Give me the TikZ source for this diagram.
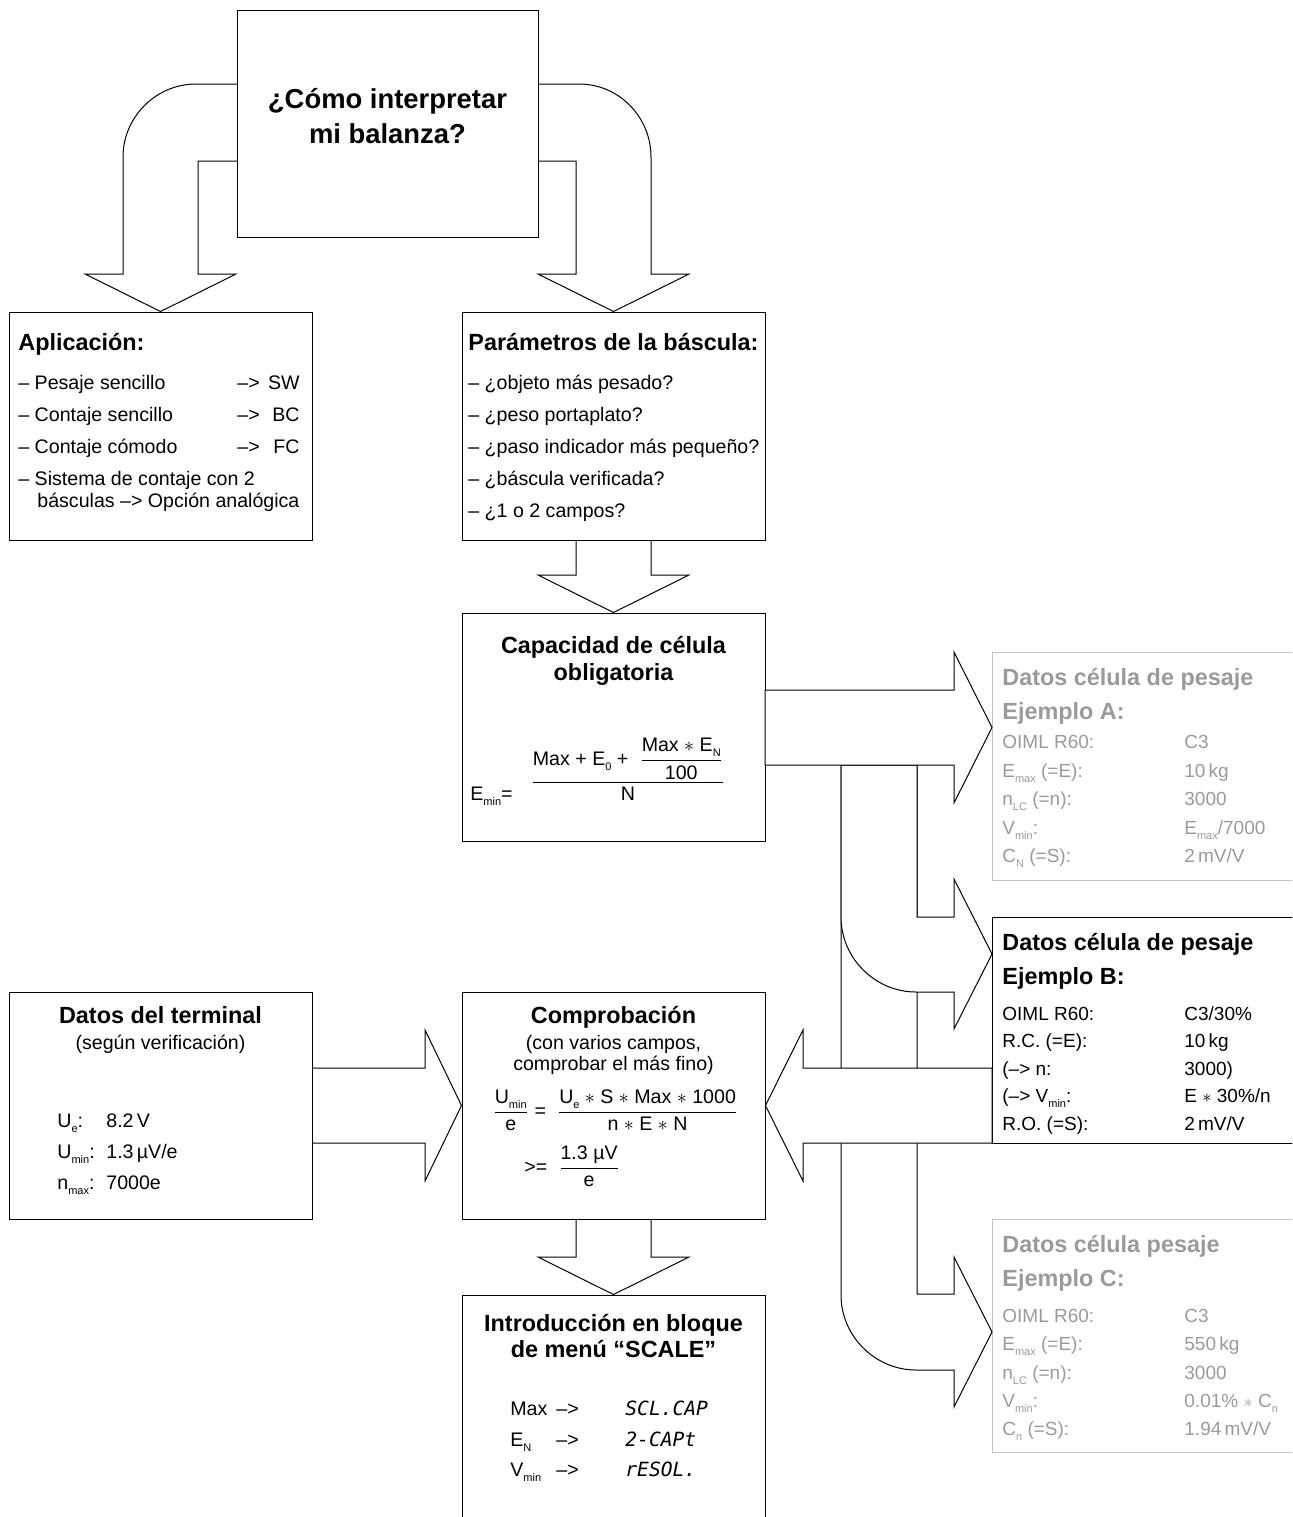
\documentclass[tikz,border=0pt]{standalone}
\usepackage{amsmath}
\usepackage{fontspec}
\setmainfont{Liberation Sans}
\newfontfamily\segfont{DejaVu Sans Mono}
\usepackage{tikz}

\definecolor{datgray}{HTML}{9A9A9A}
\definecolor{boxgray}{HTML}{C4C4C4}
\newcommand{\lsub}[1]{\raisebox{-0.5ex}{\fontsize{5.5}{6}\selectfont #1}}

\tikzset{
  box/.style={draw, line width=0.5pt, inner sep=0pt},
  ghost/.style={draw=boxgray, line width=0.5pt, inner sep=0pt},
  blk/.style={draw, line width=0.5pt, line join=miter},
  ttl/.style={font=\fontsize{13.7}{16}\selectfont\bfseries, inner sep=0pt, anchor=base},
  hd/.style={font=\fontsize{11.7}{14}\selectfont\bfseries, inner sep=0pt, anchor=base west},
  tx/.style={font=\fontsize{9.8}{12}\selectfont, inner sep=0pt, anchor=base west},
  dt/.style={font=\fontsize{9.5}{11}\selectfont, inner sep=0pt, anchor=base west},
}

\begin{document}
\begin{tikzpicture}[x=0.5pt,y=-0.5pt]
  \useasboundingbox (0,0) rectangle (1292,1517);
  \clip (0,0) rectangle (1292,1517);
  %% boxes
  \node[box, minimum width=150.5pt, minimum height=113.5pt] (q) at (387.5,123.5) {};
  \node[box, minimum width=151.5pt, minimum height=114pt] (apl) at (160.5,426) {};
  \node[box, minimum width=151.5pt, minimum height=114pt] (par) at (613.5,426) {};
  \node[box, minimum width=151.5pt, minimum height=114pt] (cap) at (613.5,727) {};
  \node[box, minimum width=151.5pt, minimum height=113.5pt] (ter) at (160.5,1105.5) {};
  \node[box, minimum width=151.5pt, minimum height=113.5pt] (com) at (613.5,1105.5) {};
  \node[box, minimum width=151.5pt, minimum height=120pt] (ein) at (613.5,1415) {};
  \node[ghost, minimum width=155pt, minimum height=114pt] (dA) at (1147,766) {};
  \node[box, minimum width=155pt, minimum height=113pt] (dB) at (1147,1030) {};
  \node[ghost, minimum width=155pt, minimum height=116.5pt] (dC) at (1147,1335.5) {};

  %% block arrows
  \draw[blk] (237,84) -- (196,84) .. controls (156,84) and (123,117) .. (123,157) -- (123,274) -- (85,274) -- (apl.north) -- (236,274) -- (198,274) -- (198,161) -- (237,161);
  \draw[blk] (538,84) -- (579,84) .. controls (619,84) and (651,117) .. (651,157) -- (651,274) -- (689,274) -- (par.north) -- (538,274) -- (576,274) -- (576,161) -- (538,161);
  \draw[blk] (576,540) -- (576,575) -- (538,575) -- (cap.north) -- (689,575) -- (651,575) -- (651,540);
  \draw[blk] (312,1068) -- (425,1068) -- (425,1030) -- (com.west) -- (425,1181) -- (425,1143) -- (312,1143);
  \draw[blk] (576,1219) -- (576,1257) -- (538,1257) -- (ein.north) -- (689,1257) -- (651,1257) -- (651,1219);
  %% branches to the load cells, drawn over each other
  \filldraw[blk, fill=white] (841,765) -- (841,1295) .. controls (841,1336) and (875,1370) .. (916,1370) -- (954,1370) -- (954,1407) -- (992,1332) -- (954,1257) -- (954,1294) -- (917,1294) -- (917,765) -- cycle;
  \filldraw[blk, fill=white] (841,765) -- (841,917) .. controls (841,958) and (875,992) .. (916,992) -- (954,992) -- (954,1029) -- (992,954) -- (954,879) -- (954,917) -- (917,917) -- (917,765) -- cycle;
  \filldraw[blk, fill=white] (765,690) -- (954,690) -- (954,652) -- (992,727.5) -- (954,803) -- (954,765) -- (765,765) -- cycle;
  \filldraw[blk, fill=white] (992,1068) -- (803,1068) -- (803,1030) -- (com.east) -- (803,1181) -- (803,1143) -- (992,1143) -- cycle;

  %% question
  \node[ttl] (q1) at (387.5,108) {¿Cómo interpretar};
  \node[ttl] (q2) at (387.5,143) {mi balanza?};

  %% application
  \node[hd] (aplh) at (18,350) {Aplicación:};
  \node[tx] (apl1) at (18,389) {– Pesaje sencillo};
  \node[tx] (apl1a) at (237,389) {–>};
  \node[tx, anchor=base east] (apl1b) at (300,389) {SW};
  \node[tx] (apl2) at (18,421) {– Contaje sencillo};
  \node[tx] (apl2a) at (237,421) {–>};
  \node[tx, anchor=base east] (apl2b) at (300,421) {BC};
  \node[tx] (apl3) at (18,453) {– Contaje cómodo};
  \node[tx] (apl3a) at (237,453) {–>};
  \node[tx, anchor=base east] (apl3b) at (300,453) {FC};
  \node[tx] (apl4) at (18,485) {– Sistema de contaje con 2};
  \node[tx] (apl5) at (37,507) {básculas –> Opción analógica};

  %% scale parameters
  \node[hd] (parh) at (468,350) {Parámetros de la báscula:};
  \node[tx] (par1) at (468,389) {– ¿objeto más pesado?};
  \node[tx] (par2) at (468,421) {– ¿peso portaplato?};
  \node[tx] (par3) at (468,453) {– ¿paso indicador más pequeño?};
  \node[tx] (par4) at (468,485) {– ¿báscula verificada?};
  \node[tx] (par5) at (468,517) {– ¿1 o 2 campos?};

  %% capacity
  \node[hd, anchor=base] (caph1) at (613.5,653) {Capacidad de célula};
  \node[hd, anchor=base] (caph2) at (613.5,680) {obligatoria};
  \node[tx] (emin) at (470,800) {E\lsub{min}=};
  \node[tx, anchor=base] (fcap) at (628,787) {$\dfrac{\text{Max + E\lsub{0} + }\;\dfrac{\text{Max $\ast$ E\lsub{N}}}{\text{100}}}{\text{N}}$};

  %% terminal
  \node[hd, anchor=base] (terh) at (160.5,1023) {Datos del terminal};
  \node[tx, anchor=base] (ters) at (160.5,1049) {(según verificación)};
  \node[tx] (ter1) at (57,1127) {U\lsub{e}:};
  \node[tx] (ter1v) at (106,1127) {8.2\,V};
  \node[tx] (ter2) at (57,1158) {U\lsub{min}:};
  \node[tx] (ter2v) at (106,1158) {1.3\,µV/e};
  \node[tx] (ter3) at (57,1189) {n\lsub{max}:};
  \node[tx] (ter3v) at (106,1189) {7000e};

  %% check
  \node[hd, anchor=base] (comh) at (613.5,1023) {Comprobación};
  \node[tx, anchor=base] (coms1) at (613.5,1049) {(con varios campos,};
  \node[tx, anchor=base] (coms2) at (613.5,1070) {comprobar el más fino)};
  \node[tx] (fcom) at (492,1117) {$\dfrac{\text{U\lsub{min}}}{\text{e}}\ \text{=}\ \ \dfrac{\text{U\lsub{e} $\ast$ S $\ast$ Max $\ast$ 1000}}{\text{n $\ast$ E $\ast$ N}}$};
  \node[tx] (fmin) at (524,1173) {$\text{>=}\ \ \dfrac{\text{1.3 µV}}{\text{e}}$};

  %% menu block
  \node[hd, anchor=base] (einh1) at (613.5,1331) {Introducción en bloque};
  \node[hd, anchor=base] (einh2) at (613.5,1357) {de menú “SCALE”};
  \node[tx] (ein1) at (510,1415) {Max};
  \node[tx] (ein1a) at (556,1415) {–>};
  \node[tx] (ein1b) at (625,1415) {\segfont\itshape SCL.CAP};
  \node[tx] (ein2) at (510,1446) {E\lsub{N}};
  \node[tx] (ein2a) at (556,1446) {–>};
  \node[tx] (ein2b) at (625,1446) {\segfont\itshape 2-CAPt};
  \node[tx] (ein3) at (510,1476) {V\lsub{min}};
  \node[tx] (ein3a) at (556,1476) {–>};
  \node[tx] (ein3b) at (625,1476) {\segfont\itshape rESOL.};

  %% load cell A
  \node[hd, text=datgray] (dAh) at (1002,685) {Datos célula de pesaje};
  \node[hd, text=datgray] (dAe) at (1002,719) {Ejemplo A:};
  \node[dt, text=datgray] (dA1) at (1002,748.5) {OIML R60:};
  \node[dt, text=datgray] (dA1v) at (1184,748.5) {C3};
  \node[dt, text=datgray] (dA2) at (1002,777) {E\lsub{max} (=E):};
  \node[dt, text=datgray] (dA2v) at (1184,777) {10\,kg};
  \node[dt, text=datgray] (dA3) at (1002,805.5) {n\lsub{LC} (=n):};
  \node[dt, text=datgray] (dA3v) at (1184,805.5) {3000};
  \node[dt, text=datgray] (dA4) at (1002,834) {V\lsub{min}:};
  \node[dt, text=datgray] (dA4v) at (1184,834) {E\lsub{max}/7000};
  \node[dt, text=datgray] (dA5) at (1002,862.5) {C\lsub{N} (=S):};
  \node[dt, text=datgray] (dA5v) at (1184,862.5) {2\,mV/V};

  %% load cell B
  \node[hd] (dBh) at (1002,950) {Datos célula de pesaje};
  \node[hd] (dBe) at (1002,984) {Ejemplo B:};
  \node[dt] (dB1) at (1002,1020) {OIML R60:};
  \node[dt] (dB1v) at (1184,1020) {C3/30\%};
  \node[dt] (dB2) at (1002,1047.5) {R.C. (=E):};
  \node[dt] (dB2v) at (1184,1047.5) {10\,kg};
  \node[dt] (dB3) at (1002,1075) {(–> n:};
  \node[dt] (dB3v) at (1184,1075) {3000)};
  \node[dt] (dB4) at (1002,1102.5) {(–> V\lsub{min}:};
  \node[dt] (dB4v) at (1184,1102.5) {E $\ast$ 30\%/n};
  \node[dt] (dB5) at (1002,1130) {R.O. (=S):};
  \node[dt] (dB5v) at (1184,1130) {2\,mV/V};

  %% load cell C
  \node[hd, text=datgray] (dCh) at (1002,1252) {Datos célula pesaje};
  \node[hd, text=datgray] (dCe) at (1002,1286) {Ejemplo C:};
  \node[dt, text=datgray] (dC1) at (1002,1322) {OIML R60:};
  \node[dt, text=datgray] (dC1v) at (1184,1322) {C3};
  \node[dt, text=datgray] (dC2) at (1002,1350) {E\lsub{max} (=E):};
  \node[dt, text=datgray] (dC2v) at (1184,1350) {550\,kg};
  \node[dt, text=datgray] (dC3) at (1002,1379) {n\lsub{LC} (=n):};
  \node[dt, text=datgray] (dC3v) at (1184,1379) {3000};
  \node[dt, text=datgray] (dC4) at (1002,1407) {V\lsub{min}:};
  \node[dt, text=datgray] (dC4v) at (1184,1407) {0.01\% $\ast$ C\lsub{n}};
  \node[dt, text=datgray] (dC5) at (1002,1435) {C\lsub{n} (=S):};
  \node[dt, text=datgray] (dC5v) at (1184,1435) {1.94\,mV/V};
\end{tikzpicture}
\end{document}
